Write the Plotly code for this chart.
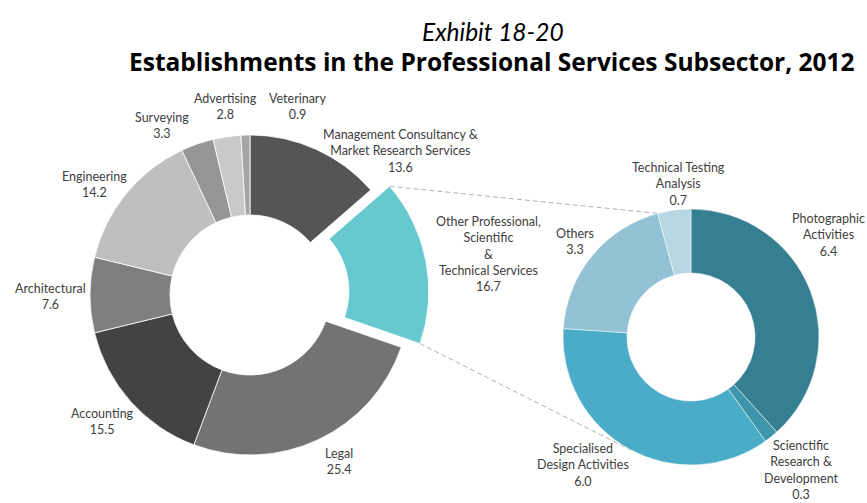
import math
import plotly.graph_objects as go

W, H = 867, 503

# Share of establishments by industry (%)
main_labels = [
    "Management Consultancy &<br>Market Research Services",
    "Other Professional,<br>Scientific<br>&<br>Technical Services",
    "Legal",
    "Accounting",
    "Architectural",
    "Engineering",
    "Surveying",
    "Advertising",
    "Veterinary",
]
main_values = [13.6, 16.7, 25.4, 15.5, 7.6, 14.2, 3.3, 2.8, 0.9]
main_colors = ["#555555", "#67C9CF", "#737373", "#434343", "#7F7F7F",
               "#BFBFBF", "#969696", "#C9C9C9", "#A5A5A5"]

# Breakdown of "Other Professional, Scientific & Technical Services"
sub_labels = [
    "Photographic<br>Activities",
    "Scienctific<br>Research &<br>Development",
    "Specialised<br>Design Activities",
    "Others",
    "Technical Testing<br>Analysis",
]
sub_values = [6.4, 0.3, 6.0, 3.3, 0.7]
sub_colors = ["#367F93", "#3E94A8", "#4AACC6", "#93C2D4", "#B7D7E3"]

EXPLODED = 1          # index of the slice broken out into the second ring
PULL = 0.12

# ring geometry in pixels (centre x, centre y, outer radius)
MAIN_C, MAIN_R = (250, 295), 160
SUB_C, SUB_R = (691, 337), 128

# label block centres, pixels
main_label_pos = [(400, 151), (488, 254), (339, 461), (102, 421), (50, 296),
                  (94, 185), (162, 126), (226, 107), (297, 107)]
sub_label_pos = [(828, 235), (801, 470), (583, 465), (575, 241), (678, 184)]


def px_to_paper(x, y):
    return x / W, 1 - y / H


def domain_for(center, radius, max_pull):
    half = radius * (1 + max_pull)
    cx, cy = center
    return dict(x=[(cx - half) / W, (cx + half) / W],
                y=[1 - (cy + half) / H, 1 - (cy - half) / H])


def polar(center, r, deg):
    a = math.radians(deg)
    return center[0] + r * math.sin(a), center[1] - r * math.cos(a)


pulls = [PULL if i == EXPLODED else 0 for i in range(len(main_values))]

fig = go.Figure()
fig.add_trace(go.Pie(
    labels=[l.replace("<br>", " ") for l in main_labels],
    values=main_values, sort=False, direction="clockwise", rotation=0,
    hole=0.5, pull=pulls, textinfo="none", showlegend=False,
    marker=dict(colors=main_colors, line=dict(color="white", width=0.8)),
    domain=domain_for(MAIN_C, MAIN_R, PULL),
))
fig.add_trace(go.Pie(
    labels=[l.replace("<br>", " ") for l in sub_labels],
    values=sub_values, sort=False, direction="clockwise", rotation=0,
    hole=0.5, textinfo="none", showlegend=False,
    marker=dict(colors=sub_colors, line=dict(color="white", width=0.5)),
    domain=domain_for(SUB_C, SUB_R, 0),
))

# connector lines from the broken-out slice to the second ring
total = sum(main_values)
a0 = sum(main_values[:EXPLODED]) / total * 360
a1 = a0 + main_values[EXPLODED] / total * 360
shift = polar((0, 0), PULL * MAIN_R, (a0 + a1) / 2)
moved_c = (MAIN_C[0] + shift[0], MAIN_C[1] + shift[1])
p_top = polar(moved_c, MAIN_R, a0)
p_bot = polar(moved_c, MAIN_R, a1)

sub_total = sum(sub_values)
top_end = polar(SUB_C, SUB_R, sum(sub_values[:-1]) / sub_total * 360)

# lower line: tangent from the slice corner to the second ring
dx, dy = p_bot[0] - SUB_C[0], p_bot[1] - SUB_C[1]
d = math.hypot(dx, dy)
base = math.atan2(dy, dx)
alpha = math.acos(SUB_R / d)
cands = [(SUB_C[0] + SUB_R * math.cos(base + s * alpha),
          SUB_C[1] + SUB_R * math.sin(base + s * alpha)) for s in (1, -1)]
bot_end = max(cands, key=lambda p: p[1])

shapes = []
for p, q in [(p_top, top_end), (p_bot, bot_end)]:
    x0, y0 = px_to_paper(*p)
    x1, y1 = px_to_paper(*q)
    shapes.append(dict(type="line", xref="paper", yref="paper",
                       x0=x0, y0=y0, x1=x1, y1=y1, layer="below",
                       line=dict(color="#B0B0B0", width=1, dash="5px,3px")))

label_font = dict(family="Lato", size=12.5, color="#404040")
annotations = []
for labels, values, positions in [(main_labels, main_values, main_label_pos),
                                  (sub_labels, sub_values, sub_label_pos)]:
    for lab, val, (x, y) in zip(labels, values, positions):
        px, py = px_to_paper(x, y)
        annotations.append(dict(
            x=px, y=py, xref="paper", yref="paper", xanchor="center",
            yanchor="middle", align="center", showarrow=False,
            text=f"{lab}<br>{val:.1f}", font=label_font))

annotations.append(dict(
    x=493 / W, y=1 - 31 / H, xref="paper", yref="paper", xanchor="center",
    yanchor="middle", showarrow=False, text="<i>Exhibit 18-20</i>",
    font=dict(family="Lato", size=24.5, color="black")))
annotations.append(dict(
    x=492 / W, y=1 - 61 / H, xref="paper", yref="paper", xanchor="center",
    yanchor="middle", showarrow=False,
    text="<b>Establishments in the Professional Services Subsector, 2012</b>",
    font=dict(family="Open Sans", size=24.5, color="black")))

fig.update_layout(
    width=W, height=H, margin=dict(l=0, r=0, t=0, b=0),
    paper_bgcolor="white", plot_bgcolor="white",
    shapes=shapes, annotations=annotations,
)

fig.write_html("out.html")
